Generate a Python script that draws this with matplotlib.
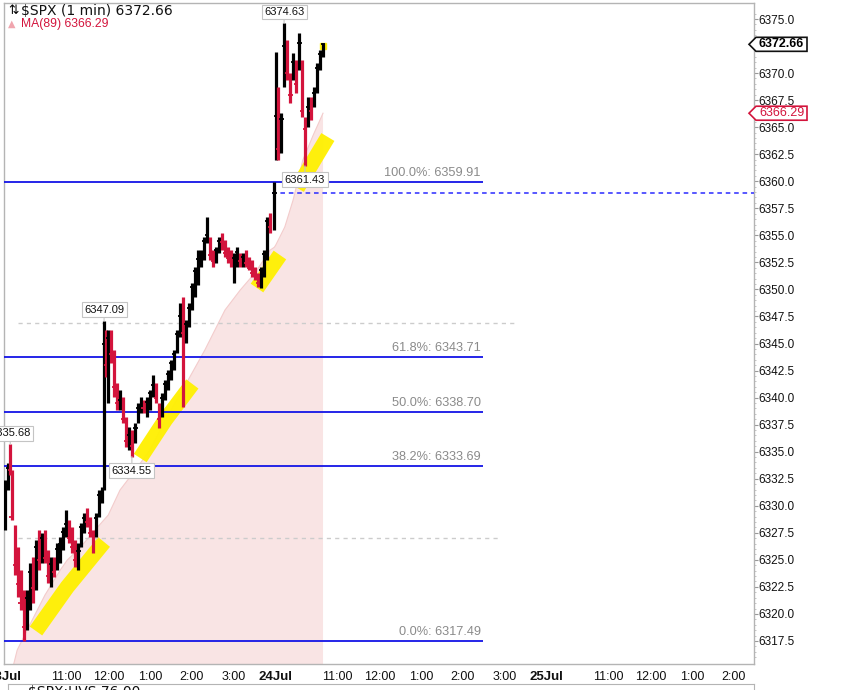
import matplotlib
matplotlib.use("Agg")
import matplotlib.pyplot as plt
from matplotlib.patches import Polygon
from matplotlib.transforms import IdentityTransform
import numpy as np

# ---------------- data ----------------
d23_times = ["09:31", "09:36", "09:39", "09:41", "09:46", "09:50", "09:54", "09:59", "10:03", "10:07",
             "10:12", "10:16", "10:20", "10:25", "10:29", "10:33", "10:38", "10:42", "10:46", "10:51",
             "10:55", "10:59", "11:04", "11:08", "11:12", "11:17", "11:21", "11:25", "11:29", "11:34",
             "11:38", "11:42", "11:47", "11:51", "11:54", "11:57", "12:00", "12:04", "12:08", "12:13",
             "12:17", "12:21", "12:26", "12:30", "12:34", "12:39", "12:43", "12:47", "12:51", "12:56",
             "13:00", "13:04", "13:09", "13:13", "13:17", "13:22", "13:26", "13:30", "13:35", "13:39",
             "13:43", "13:48", "13:52", "13:56", "14:01", "14:05", "14:09", "14:13", "14:18", "14:22",
             "14:26", "14:31", "14:35", "14:39", "14:44", "14:48", "14:52", "14:57", "15:01", "15:05",
             "15:10", "15:14", "15:18", "15:23", "15:27", "15:31", "15:36", "15:40", "15:44", "15:48",
             "15:53", "15:59"]
d23_high = [6332.38, 6333.95, 6335.68, 6333.30, 6328.22, 6326.19, 6324.06, 6322.21, 6322.21, 6324.71,
            6325.26, 6326.83, 6327.76, 6327.48, 6327.76, 6325.91, 6325.26, 6325.26, 6326.56, 6327.11,
            6328.04, 6329.61, 6328.68, 6328.04, 6326.83, 6326.56, 6328.41, 6329.33, 6329.79, 6328.96,
            6327.76, 6329.33, 6331.46, 6331.73, 6347.09, 6346.25, 6346.25, 6346.25, 6344.40, 6341.35,
            6340.70, 6340.05, 6338.20, 6337.28, 6337.00, 6337.65, 6339.50, 6340.05, 6339.78, 6340.05,
            6340.70, 6342.09, 6341.35, 6339.50, 6340.42, 6341.63, 6342.55, 6343.47, 6344.40, 6346.25,
            6348.74, 6349.30, 6347.17, 6348.74, 6350.59, 6352.07, 6353.64, 6353.64, 6354.85, 6356.69,
            6354.85, 6353.64, 6353.92, 6354.85, 6355.22, 6354.57, 6353.92, 6353.64, 6353.37, 6353.92,
            6353.37, 6353.37, 6353.64, 6353.00, 6352.72, 6352.07, 6351.52, 6352.07, 6353.64, 6356.69,
            6357.06, 6359.91]
d23_low = [6327.76, 6331.46, 6332.84, 6328.68, 6323.60, 6321.56, 6320.36, 6317.49, 6318.51, 6320.36,
           6321.01, 6322.21, 6324.06, 6324.71, 6324.71, 6322.86, 6322.49, 6323.41, 6324.06, 6324.71,
           6325.91, 6327.11, 6326.56, 6325.63, 6324.34, 6324.06, 6326.19, 6327.48, 6328.04, 6327.11,
           6325.63, 6327.11, 6328.96, 6330.25, 6331.46, 6341.90, 6339.50, 6343.20, 6340.05, 6338.85,
           6338.85, 6337.65, 6335.43, 6335.15, 6334.55, 6335.80, 6337.65, 6338.57, 6338.57, 6338.20,
           6338.85, 6340.05, 6339.50, 6337.19, 6338.20, 6339.78, 6340.70, 6341.63, 6342.55, 6344.12,
           6345.60, 6339.13, 6345.05, 6346.53, 6348.10, 6349.30, 6350.41, 6352.07, 6352.72, 6354.29,
           6352.72, 6352.07, 6352.44, 6353.37, 6353.64, 6353.00, 6352.44, 6352.07, 6350.59, 6352.07,
           6352.07, 6352.07, 6352.07, 6351.80, 6351.15, 6350.87, 6350.22, 6350.13, 6351.15, 6352.72,
           6355.22, 6355.50]
d23_close = [6331.2, 6333.5, 6333.3, 6329.0, 6324.5, 6322.8, 6321.0, 6318.8, 6321.5, 6323.9,
             6322.4, 6326.2, 6325.0, 6327.0, 6325.2, 6323.5, 6324.6, 6323.9, 6326.0, 6326.5,
             6327.6, 6328.3, 6327.0, 6326.2, 6325.0, 6325.8, 6328.0, 6328.9, 6328.5, 6327.5,
             6327.2, 6328.9, 6331.0, 6331.2, 6345.0, 6343.0, 6345.5, 6344.0, 6341.0, 6339.5,
             6339.8, 6338.0, 6336.0, 6336.5, 6335.5, 6337.2, 6339.0, 6339.2, 6339.0, 6339.6,
             6340.4, 6341.2, 6340.0, 6338.0, 6340.0, 6341.3, 6342.2, 6343.2, 6344.0, 6345.9,
             6347.5, 6346.0, 6346.8, 6348.3, 6350.2, 6351.7, 6352.8, 6353.0, 6354.5, 6355.0,
             6353.2, 6352.6, 6353.6, 6354.5, 6354.4, 6353.4, 6352.9, 6352.5, 6352.9, 6353.5,
             6352.6, 6353.0, 6352.4, 6352.0, 6351.5, 6351.2, 6350.6, 6351.8, 6353.3, 6356.3,
             6355.8, 6358.91]

d24_times = ["09:31", "09:34", "09:39", "09:43", "09:47", "09:52", "09:56", "10:00", "10:05", "10:09",
             "10:13", "10:17", "10:22", "10:26", "10:30", "10:35", "10:39"]
d24_high = [6371.95, 6368.71, 6366.31, 6374.63, 6373.06, 6370.01, 6371.86, 6371.21, 6373.71, 6371.21,
            6365.94, 6367.79, 6367.79, 6368.71, 6370.93, 6372.13, 6372.78]
d24_low = [6362.00, 6362.00, 6362.61, 6368.71, 6369.36, 6367.23, 6369.36, 6368.16, 6370.29, 6365.94,
           6361.43, 6365.02, 6365.66, 6366.86, 6368.16, 6370.29, 6371.49]
d24_close = [6366.0, 6363.0, 6365.8, 6372.5, 6370.0, 6368.0, 6371.0, 6369.0, 6372.8, 6366.5,
             6364.8, 6366.9, 6366.5, 6368.2, 6370.5, 6371.8, 6372.66]

# MA(89) (day index, time, value)
ma_day = [0, 0, 0, 0, 0, 0, 0, 0, 0, 0, 0, 0, 0, 0, 0, 0, 0, 0, 0, 0, 0,
          1, 1, 1, 1, 1, 1]
ma_times = ["09:39", "09:44", "09:49", "10:07", "10:29", "10:51", "11:01", "11:19", "11:41", "12:00",
            "12:17", "12:39", "13:00", "13:22", "13:55", "14:19", "14:48", "15:10", "15:31", "15:53",
            "15:59", "09:31", "09:44", "09:56", "10:10", "10:25", "10:39"]
ma_values = [6313.0, 6315.37, 6316.66, 6318.98, 6321.75, 6324.06, 6324.98, 6326.09, 6327.76, 6329.14,
             6331.46, 6333.31, 6335.15, 6337.93, 6341.63, 6344.40, 6348.10, 6349.95, 6351.52, 6353.64,
             6353.9, 6354.1, 6355.77, 6358.27, 6361.96, 6364.28, 6366.29]

# Fibonacci retracement levels
fib_labels = ["100.0%", "61.8%", "50.0%", "38.2%", "0.0%"]
fib_values = [6359.91, 6343.71, 6338.70, 6333.69, 6317.49]
prev_close = 6358.91
gray_levels = [6346.90, 6327.02]

# hand-drawn yellow highlights (day, time, price)
hl_bands = [
    [(0, "10:16", 6318.42), (0, "11:01", 6322.49), (0, "11:54", 6326.65)],
    [(0, "12:46", 6334.41), (0, "13:22", 6337.93), (0, "14:01", 6341.26)],
    [(0, "15:34", 6350.13), (1, "09:37", 6353.18)],
    [(1, "10:02", 6359.38), (1, "10:46", 6364.09)],
]

# swing labels (day, time, price, above?)
swing = [(1, "09:43", 6374.63, True), (0, "11:54", 6347.09, True), (0, "09:39", 6335.68, True),
         (0, "12:34", 6334.55, False), (1, "10:13", 6361.43, False)]

last_price = 6372.66
ma_last = 6366.29

# x-axis ticks (day, time, label, bold)
xticks = [(0, "09:30", "23Jul", True), (0, "11:00", "11:00", False), (0, "12:00", "12:00", False),
          (0, "13:00", "1:00", False), (0, "14:00", "2:00", False), (0, "15:00", "3:00", False),
          (1, "09:30", "24Jul", True), (1, "11:00", "11:00", False), (1, "12:00", "12:00", False),
          (1, "13:00", "1:00", False), (1, "14:00", "2:00", False), (1, "15:00", "3:00", False),
          (2, "09:30", "25Jul", True), (2, "11:00", "11:00", False), (2, "12:00", "12:00", False),
          (2, "13:00", "1:00", False), (2, "14:00", "2:00", False)]


def hrs(day, hhmm):
    h, m = map(int, hhmm.split(":"))
    return day * 6.5 + h + m / 60.0 - 9.5


RED = "#d3143c"
BLACK = "#000000"
BLUE = "#1414e6"
NARROW = ["Liberation Sans Narrow", "Liberation Sans", "DejaVu Sans"]
ARIAL = ["Liberation Sans", "DejaVu Sans"]

fig = plt.figure(figsize=(8.52, 6.90), dpi=100)
ax = fig.add_axes([4 / 852, 26 / 690, 750 / 852, 661 / 690])
ax.set_xlim(0, 750 / 41.7)
ax.set_ylim(6315.37, 6376.48)

# MA shaded area
ma_t = [hrs(d, s) for d, s in zip(ma_day, ma_times)]
ax.fill_between(ma_t, ma_values, 6300, color="#f9e4e4", lw=0, zorder=1)
ax.plot(ma_t, ma_values, color="#f3cccc", lw=0.8, zorder=1)

# yellow highlights
for band in hl_bands:
    bt = [hrs(d, s) for d, s, _ in band]
    bp = [p for _, _, p in band]
    ax.plot(bt, bp, color="#fff000", lw=11, solid_capstyle="butt", solid_joinstyle="round",
            alpha=0.95, zorder=2)

# fib lines
fib_end = hrs(1, "14:29")
ax.hlines(fib_values, 0, fib_end, color=BLUE, lw=1.3, zorder=3)
for lab, v in zip(fib_labels, fib_values):
    ax.annotate(f"{lab}: {v:.2f}", xy=(fib_end, v), xytext=(-2, 3), textcoords="offset pixels",
                ha="right", va="bottom", fontsize=9.2, color="#8a8a8a", family=ARIAL, zorder=3)

# previous close dashed line
ax.hlines(prev_close, hrs(0, "15:56"), ax.get_xlim()[1], color="#2a2aff", lw=1.1,
          linestyles=(0, (3, 2.5)), zorder=3)
# gray dashed level lines
ax.hlines(gray_levels[0], hrs(0, "09:50"), hrs(1, "15:20"), color="#cccccc", lw=1.0,
          linestyles=(0, (3, 3)), zorder=2)
ax.hlines(gray_levels[1], hrs(0, "09:50"), hrs(1, "14:55"), color="#cccccc", lw=1.0,
          linestyles=(0, (3, 3)), zorder=2)

# HLC bars
times = [hrs(0, s) for s in d23_times] + [hrs(1, s) for s in d24_times]
highs = d23_high + d24_high
lows = d23_low + d24_low
closes = d23_close + d24_close
tick = 2.2 / 41.7
prev = closes[0] - 1
for t, h, l, c in zip(times, highs, lows, closes):
    col = BLACK if c >= prev else RED
    ax.vlines(t, l, h, color=col, lw=2.3, zorder=5)
    ax.hlines(c, t - tick, t + tick, color=col, lw=1.3, zorder=5)
    prev = c
ax.plot(times[-1], highs[-1] - 0.3, "s", color="#fff000", ms=5, alpha=0.9, zorder=4)

# swing labels
for d, s, p, above in swing:
    off = (0, 6) if above else (0, -9)
    ax.annotate(f"{p:.2f}", xy=(hrs(d, s), p), xytext=off, textcoords="offset pixels",
                ha="center", va="bottom" if above else "top", fontsize=8, family=ARIAL,
                color="#111111", zorder=7,
                bbox=dict(boxstyle="square,pad=0.22", fc="white", ec="#c4c4c4", lw=0.8),
                arrowprops=dict(arrowstyle="-", color="#c4c4c4", lw=0.8, shrinkA=0, shrinkB=0))

# axes styling
for sp in ax.spines.values():
    sp.set_color("#b4b4b4")
    sp.set_linewidth(1.0)
ax.yaxis.tick_right()
yt = [v for v in np.arange(6317.5, 6375.01, 2.5) if abs(v - 6372.5) > 0.01]
ax.set_yticks(yt)
ax.set_yticklabels([f"{v:.1f}" for v in yt], fontsize=8.5, family=ARIAL, color="#111111")
ax.set_yticks(np.arange(6316.0, 6376.0, 0.5), minor=True)
ax.tick_params(axis="y", which="major", length=3, pad=0.5, color="#999999")
ax.tick_params(axis="y", which="minor", length=1.5, color="#bbbbbb")

ax.set_xticks([hrs(d, s) for d, s, _, _ in xticks])
ax.set_xticklabels([lab for _, _, lab, _ in xticks])
for lbl, (_, _, _, bold) in zip(ax.get_xticklabels(), xticks):
    if bold:
        lbl.set_fontweight("bold")
        lbl.set_fontsize(9.5)
        lbl.set_family(NARROW)
    else:
        lbl.set_fontsize(9)
        lbl.set_family(NARROW)
ax.tick_params(axis="x", length=0, pad=5, colors="#111111")

# legend texts
fig.text(8 / 852, 1 - 11 / 690, "⇅", fontsize=9, va="center", ha="left", family=["DejaVu Sans"])
fig.text(21 / 852, 1 - 11 / 690, f"$SPX (1 min) {last_price:.2f}", fontsize=10, va="center",
         ha="left", family=["DejaVu Sans"], color="#111111")
fig.text(8 / 852, 1 - 24 / 690, "▲", fontsize=7, va="center", ha="left", color="#f0a5ae",
         family=["DejaVu Sans"])
fig.text(21 / 852, 1 - 24 / 690, f"MA(89) {ma_last:.2f}", fontsize=8.7, va="center", ha="left",
         family=ARIAL, color=RED)


# right price tags
def tag(price, ec, tc, weight):
    yd = ax.transData.transform((0, price))[1]
    x0, x1, x2 = 749, 756, 807
    hh = 7
    poly = Polygon([(x0, yd), (x1, yd + hh), (x2, yd + hh), (x2, yd - hh), (x1, yd - hh)],
                   closed=True, fc="white", ec=ec, lw=1.2, transform=IdentityTransform(), zorder=10)
    fig.patches.append(poly)
    fig.text((x1 + x2) / 2 / 852, yd / 690, f"{price:.2f}", ha="center", va="center",
             fontsize=9, color=tc, weight=weight, family=ARIAL, zorder=11)


tag(last_price, "#111111", "#000000", "bold")
tag(ma_last, RED, RED, "normal")

# lower panel (cut off)
ax2 = fig.add_axes([8 / 852, -0.05, 746 / 852, 0.05 + 6 / 690])
ax2.set_xticks([])
ax2.set_yticks([])
for sp in ax2.spines.values():
    sp.set_color("#b4b4b4")
ax2.text(20 / 746, 0.98, "$SPX:UVS 76.00", transform=ax2.transAxes, va="top", fontsize=10,
         family=["DejaVu Sans"], color="#111111")

fig.savefig("out.png", dpi=100)
